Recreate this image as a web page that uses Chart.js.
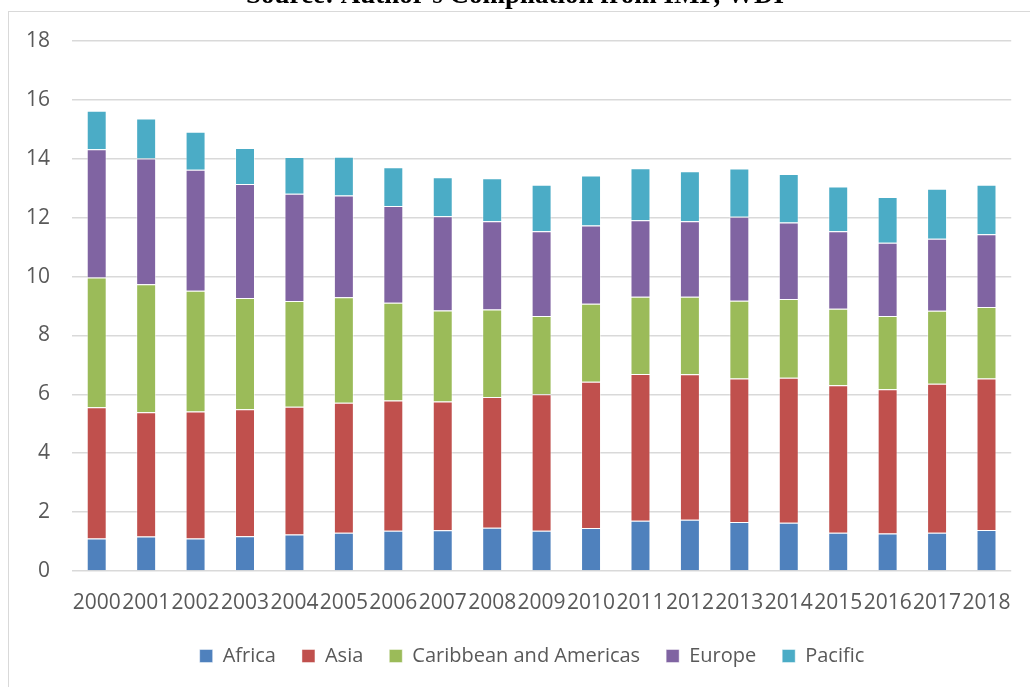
<!DOCTYPE html>
<html>
<head>
<meta charset="utf-8">
<script src="https://cdn.jsdelivr.net/npm/chart.js@4.4.1/dist/chart.umd.min.js"></script>
<style>
  html, body { margin: 0; padding: 0; background: #ffffff; overflow: hidden; }
  #frame { position: absolute; left: 8px; top: 11px; width: 1040px; height: 700px; border: 1.5px solid #d9d9d9; box-sizing: border-box; }
  #wrap { position: absolute; left: 0; top: 0; width: 1030px; height: 687px; }
</style>
</head>
<body>
<div id="frame"></div>
<div id="wrap"><canvas id="chart" width="1030" height="687"></canvas></div>
<script>
// Years on the category axis
const years = ['2000','2001','2002','2003','2004','2005','2006','2007','2008','2009',
               '2010','2011','2012','2013','2014','2015','2016','2017','2018'];

// Regional contributions per year (stacked)
const africa    = [1.10,1.17,1.10,1.18,1.24,1.30,1.37,1.38,1.47,1.37,1.46,1.71,1.74,1.66,1.64,1.30,1.27,1.30,1.39];
const asia      = [4.46,4.22,4.32,4.31,4.34,4.41,4.42,4.38,4.44,4.63,4.97,4.98,4.94,4.88,4.92,5.01,4.90,5.06,5.15];
const caribbean = [4.41,4.35,4.10,3.78,3.59,3.59,3.32,3.09,2.97,2.66,2.65,2.62,2.63,2.64,2.68,2.60,2.49,2.48,2.43];
const europe    = [4.35,4.27,4.11,3.87,3.64,3.45,3.29,3.20,3.00,2.88,2.65,2.60,2.57,2.85,2.60,2.63,2.49,2.44,2.47];
const pacific   = [1.31,1.36,1.29,1.23,1.25,1.32,1.31,1.32,1.46,1.58,1.70,1.77,1.70,1.64,1.64,1.52,1.55,1.70,1.68];

// Value axis ticks
const yTicks = [0,2,4,6,8,10,12,14,16,18];

const sourceNote = "Source: Author's Compilation from IMF, WDI";

const FONT = "'Open Sans', 'Liberation Sans', sans-serif";
const TEXT = '#595959';

// Caption line above the chart frame
const notePlugin = {
  id: 'sourceNote',
  afterDraw(chart) {
    const ctx = chart.ctx;
    ctx.save();
    ctx.font = "bold 27px 'Liberation Serif', serif";
    ctx.fillStyle = '#000000';
    ctx.textAlign = 'center';
    ctx.textBaseline = 'alphabetic';
    ctx.fillText(sourceNote, 515, 3);
    ctx.restore();
  }
};

// Centre the legend row within the framed area rather than the canvas
const legendShift = {
  id: 'legendShift',
  afterLayout(chart) {
    const lg = chart.legend;
    if (lg) { lg.left += 26; lg.right += 26; }
  }
};

function series(label, data, color) {
  return {
    label, data,
    backgroundColor: color,
    borderColor: 'rgba(255,255,255,0.45)',
    borderWidth: 1,
    barPercentage: 0.404,
    categoryPercentage: 1.0
  };
}

new Chart(document.getElementById('chart'), {
  type: 'bar',
  data: {
    labels: years,
    datasets: [
      series('Africa', africa, '#4F81BD'),
      series('Asia', asia, '#C0504D'),
      series('Caribbean and Americas', caribbean, '#9BBB59'),
      series('Europe', europe, '#8064A2'),
      series('Pacific', pacific, '#4BACC6')
    ]
  },
  options: {
    responsive: false,
    animation: false,
    layout: { padding: { top: 41, right: 18, bottom: 11, left: 0 } },
    plugins: {
      title: { display: false },
      tooltip: { enabled: false },
      legend: {
        position: 'bottom',
        labels: {
          color: TEXT,
          font: { family: FONT, size: 20 },
          boxWidth: 13,
          boxHeight: 13,
          padding: 26
        }
      }
    },
    scales: {
      x: {
        stacked: true,
        grid: { display: false, drawTicks: false },
        border: { display: false },
        ticks: {
          color: TEXT,
          font: { family: FONT, size: 21 },
          padding: 19,
          autoSkip: false,
          maxRotation: 0,
          minRotation: 0
        },
        afterFit(scale) { scale.height = 49; }
      },
      y: {
        stacked: true,
        min: 0,
        max: 18,
        afterBuildTicks(scale) { scale.ticks = yTicks.map(v => ({ value: v })); },
        grid: { color: '#d9d9d9', lineWidth: 1.5, drawTicks: false },
        border: { display: false },
        ticks: {
          color: TEXT,
          font: { family: FONT, size: 21 },
          padding: 22
        },
        afterFit(scale) { scale.width = 72; }
      }
    }
  },
  plugins: [notePlugin, legendShift]
});
</script>
</body>
</html>
